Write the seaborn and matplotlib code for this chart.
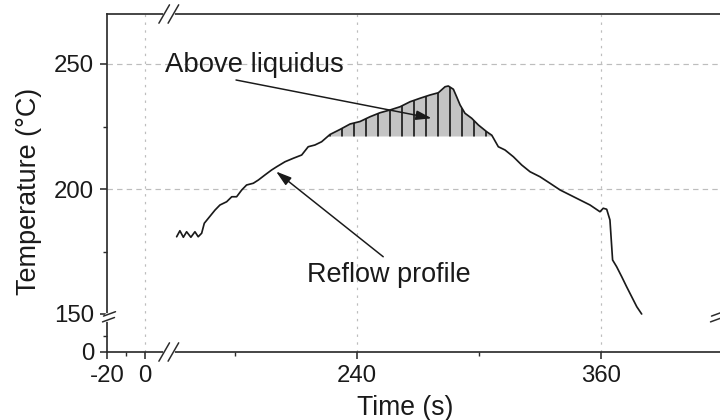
import numpy as np
import matplotlib
matplotlib.use("Agg")
import matplotlib.pyplot as plt
import matplotlib.transforms as mtransforms
from matplotlib.lines import Line2D
import seaborn as sns

# Reflow temperature profile (time in s, temperature in °C)
time_s = [151.3, 152.9, 154.6, 156.2, 158.3, 160.3, 161.9, 163.6, 164.9, 166.9,
          170.2, 172.6, 175.9, 178.4, 180.8, 183.3, 185.7, 189.0, 191.5, 194.7,
          198.0, 200.5, 204.6, 208.7, 212.8, 216.0, 219.3, 222.6, 226.7, 231.6,
          236.6, 241.5, 246.4, 251.3, 256.2, 261.2, 266.1, 271.0, 275.9, 280.0,
          283.3, 284.9, 287.4, 289.0, 290.7, 293.1, 296.4, 299.7, 303.8, 306.3,
          309.5, 312.8, 316.9, 321.0, 325.1, 330.0, 334.9, 339.9, 344.8, 349.7,
          354.6, 359.5, 361.1, 362.8, 364.4, 365.7, 367.7, 370.2, 372.6, 375.1,
          377.6, 380.0]
temp_c = [180.9, 183.3, 180.7, 182.9, 180.7, 182.9, 180.9, 182.3, 186.3, 188.3,
          191.6, 193.6, 194.9, 196.9, 196.9, 199.6, 201.6, 202.3, 203.6, 205.6,
          207.6, 208.9, 210.9, 212.3, 213.6, 216.9, 217.6, 218.9, 221.8, 223.8,
          226.0, 227.0, 228.9, 230.5, 231.6, 232.9, 234.9, 236.3, 237.6, 238.5,
          240.9, 241.2, 239.9, 236.9, 233.6, 230.3, 228.3, 225.6, 222.9, 221.5,
          216.9, 215.6, 212.9, 209.6, 206.9, 204.9, 202.3, 199.6, 197.6, 195.6,
          193.6, 190.9, 192.3, 191.9, 187.6, 171.6, 168.9, 164.9, 160.9, 156.9,
          152.9, 150.0]
liquidus_c = 221.0

x_ticks = [-20, 0, 240, 360]
x_minor = [-10, 180, 300]
y_ticks = [0, 150, 200, 250]
y_minor = [10, 175, 225]
grid_x = [0, 240, 360]
grid_y = [200, 250]

INK = "#1a1a1a"
SPINE = "#2b2b2b"
GRID = "#bdbdbd"

sns.set_theme(style="white")
plt.rcParams["font.family"] = ["Liberation Sans", "DejaVu Sans"]
plt.rcParams["hatch.linewidth"] = 1.7
plt.rcParams["hatch.color"] = INK


def piecewise(src, dst):
    src = np.asarray(src, float)
    dst = np.asarray(dst, float)
    s0 = (dst[1] - dst[0]) / (src[1] - src[0])
    s1 = (dst[-1] - dst[-2]) / (src[-1] - src[-2])

    def f(v):
        v = np.asarray(v, float)
        out = np.interp(v, src, dst)
        out = np.where(v < src[0], dst[0] + (v - src[0]) * s0, out)
        out = np.where(v > src[-1], dst[-1] + (v - src[-1]) * s1, out)
        return out
    return f


# broken axes: compressed gaps between 10..150 s and 20..150 °C
x_src, x_dst = [-20, 10, 150, 420], [0, 57, 67, 616]
y_src, y_dst = [0, 20, 150, 270], [0, 32, 38, 338]

fig = plt.figure(figsize=(720 / 72, 420 / 72), dpi=72)
ax = fig.add_axes([107 / 720, 68 / 420, 616 / 720, 338 / 420])
ax.set_xscale("function", functions=(piecewise(x_src, x_dst), piecewise(x_dst, x_src)))
ax.set_yscale("function", functions=(piecewise(y_src, y_dst), piecewise(y_dst, y_src)))
ax.set_xlim(-20, 420)
ax.set_ylim(0, 270)

for gx in grid_x:
    ax.axvline(gx, color=GRID, lw=1.2, ls=(0, (2, 4.5)), zorder=0.5)
for gy in grid_y:
    ax.axhline(gy, color=GRID, lw=1.2, ls=(0, (4.5, 3.5)), zorder=0.5)

t = np.asarray(time_s)
T = np.asarray(temp_c)
ax.fill_between(t, T, liquidus_c, where=T >= liquidus_c, interpolate=True,
                facecolor="#c4c4c4", edgecolor=INK, hatch="|", linewidth=0, zorder=1.5)
sns.lineplot(x=time_s, y=temp_c, ax=ax, color=INK, linewidth=1.7,
             sort=False, estimator=None, zorder=3)

ax.set_xticks(x_ticks)
ax.set_xticklabels([str(v) for v in x_ticks])
ax.set_xticks(x_minor, minor=True)
ax.set_yticks(y_ticks)
ax.set_yticklabels([str(v) for v in y_ticks])
ax.set_yticks(y_minor, minor=True)
ax.tick_params(which="major", direction="out", length=7, width=1.6, color=SPINE,
               labelsize=24, labelcolor=INK, pad=6, left=True, bottom=True)
ax.tick_params(which="minor", direction="out", length=4, width=1.4, color=SPINE,
               left=True, bottom=True)

for s in ax.spines.values():
    s.set_color(SPINE)
    s.set_linewidth(1.7)

ax.set_xlabel("Time (s)", fontsize=26.5, color=INK)
ax.set_ylabel("Temperature (°C)", fontsize=27, color=INK)
ax.xaxis.set_label_coords(0.4846, -0.127)
ax.yaxis.set_label_coords(-0.1055, 0.475)

arrow_style = dict(arrowstyle="-|>,head_length=0.65,head_width=0.2", color=INK,
                   lw=1.5, shrinkA=0, shrinkB=0, mutation_scale=20)
ax.text(0.094, 0.828, "Above liquidus", transform=ax.transAxes, fontsize=27.5,
        color=INK, ha="left", va="baseline")
ax.annotate("", xy=(276.7, 228.3), xytext=(180.5, 243.6), arrowprops=arrow_style, zorder=4)
ax.text(0.3247, 0.208, "Reflow profile", transform=ax.transAxes, fontsize=27,
        color=INK, ha="left", va="baseline")
ax.annotate("", xy=(200.2, 207.0), xytext=(252.9, 172.9), arrowprops=arrow_style, zorder=4)


def break_mark(base, bx, by, segments, mask):
    tr = fig.dpi_scale_trans + mtransforms.ScaledTranslation(bx, by, base)
    (mx0, my0), (mx1, my1) = mask
    ax.add_line(Line2D([mx0 / 72, mx1 / 72], [my0 / 72, my1 / 72], transform=tr,
                       color="white", lw=4, clip_on=False, zorder=5))
    for (x0, y0), (x1, y1) in segments:
        ax.add_line(Line2D([x0 / 72, x1 / 72], [y0 / 72, y1 / 72], transform=tr,
                           color=SPINE, lw=1.5, clip_on=False, zorder=6))


x_gap = 80
y_gap = 85
xb = mtransforms.blended_transform_factory(ax.transData, ax.transAxes)
yb = mtransforms.blended_transform_factory(ax.transAxes, ax.transData)
x_segs = [((-10.1, -9.2), (0.5, 9.2)), ((-0.9, -9.2), (9.7, 9.2))]
for edge in (0, 1):
    break_mark(xb, x_gap, edge, x_segs, ((-4.4, 0), (4.2, 0)))
break_mark(yb, 0, y_gap, [((-3.5, 0.9), (8.5, 5.3)), ((-4.5, -4.9), (7.5, -0.5))],
           ((0, -2.8), (0, 1.9)))
break_mark(yb, 1, y_gap, [((-11.5, 0.9), (0.5, 5.3)), ((-12.5, -4.9), (-0.5, -0.5))],
           ((0, -2.8), (0, 1.9)))

fig.savefig("out.png", dpi=72)
